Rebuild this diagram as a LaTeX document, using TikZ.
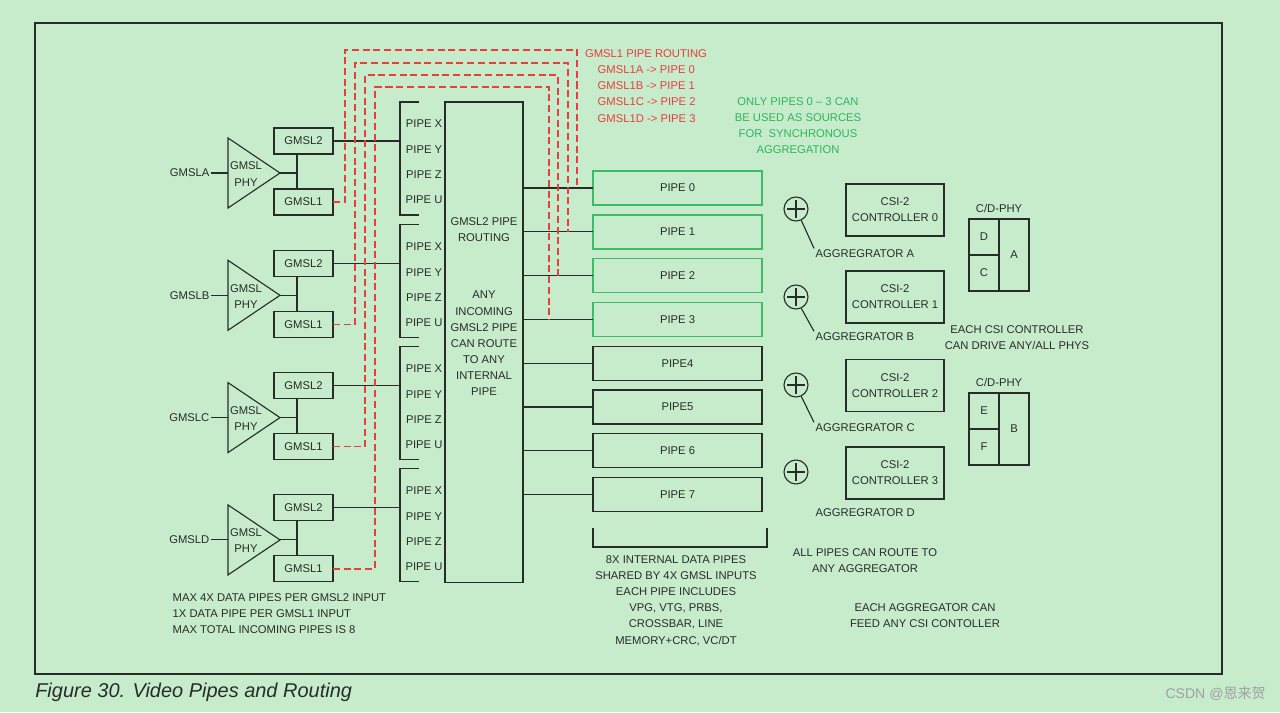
\documentclass[tikz,border=0pt]{standalone}
\usepackage{fontspec}
\setmainfont{Liberation Sans}
\newfontfamily\cjkfont{Noto Sans CJK SC}
\usetikzlibrary{positioning,calc}
\definecolor{PanelGreen}{RGB}{199,236,204}
\definecolor{InkGray}{RGB}{40,44,40}
\definecolor{RouteRed}{RGB}{232,62,62}
\definecolor{SyncGreen}{RGB}{60,188,100}
\definecolor{NoteGreen}{RGB}{45,182,92}
\definecolor{MarkGray}{RGB}{160,160,160}
\tikzset{
  ink/.style={draw=InkGray,line width=0.8pt},
  lbl/.style={inner sep=1pt,font=\fontsize{8}{11.5}\selectfont,text=InkGray,align=center},
  gbox/.style={ink,lbl,minimum width=1.475cm,minimum height=0.65cm,inner sep=0pt,outer sep=0pt},
  pipebox/.style={ink,lbl,minimum width=4.225cm,minimum height=0.85cm,inner sep=0pt,outer sep=0pt},
  syncpipe/.style={pipebox,draw=SyncGreen,line width=1.2pt},
  csibox/.style={ink,lbl,minimum width=2.45cm,minimum height=1.3cm,inner sep=0pt,outer sep=0pt},
  cell/.style={ink,lbl,minimum width=0.75cm,minimum height=0.9cm,inner sep=0pt,outer sep=0pt},
  aggr/.style={ink,circle,minimum size=0.6cm,inner sep=0pt,
    path picture={\draw[InkGray,line width=0.8pt]
      ([xshift=-0.23cm]path picture bounding box.center) -- ([xshift=0.23cm]path picture bounding box.center)
      ([yshift=-0.23cm]path picture bounding box.center) -- ([yshift=0.23cm]path picture bounding box.center);}},
  redroute/.style={draw=RouteRed,line width=0.9pt,dash pattern=on 5pt off 2.6pt},
}

\begin{document}
\begin{tikzpicture}[x=0.025cm,y=-0.025cm]
  \fill[PanelGreen] (0,0) rectangle (1280,712);
  \draw[draw=InkGray,line width=1.4pt] (35,23) rectangle (1222,674);
  \node[anchor=west,inner sep=0pt,text=InkGray,font=\fontsize{14.2}{16}\selectfont\itshape] (caption) at (35,692) {Figure 30. Video Pipes and Routing};
  \node[anchor=east,inner sep=0pt,text=MarkGray,font=\fontsize{10}{12}\selectfont] (mark) at (1266,694) {CSDN @{\cjkfont 恩来贺}};

  \node[ink,minimum width=1.95cm,minimum height=12cm,inner sep=0pt,outer sep=0pt] (route) at (484,342) {};
  \node[lbl] (routehead) at (484,230) {GMSL2 PIPE\\ROUTING};
  \node[lbl] (routeany) at (484,343.5) {ANY\\INCOMING\\GMSL2 PIPE\\CAN ROUTE\\TO ANY\\INTERNAL\\PIPE};

  \foreach \g/\n in {A/0,B/1,C/2,D/3}{
    \pgfmathsetmacro{\b}{122.3*\n}
    \node[lbl,anchor=east] (gin\g) at (211,173+\b) {GMSL\g};
    \coordinate (phyin\g) at (228,173+\b);
    \coordinate (phyout\g) at (280,173+\b);
    \draw[ink] (228,138+\b) -- (phyout\g) -- (228,208+\b) -- cycle;
    \node[lbl] (phy\g) at (246,174+\b) {GMSL\\PHY};
    \draw[ink] (gin\g) -- (phyin\g);
    \node[gbox] (gtwo\g) at (303.5,141+\b) {GMSL2};
    \node[gbox] (gone\g) at (303.5,202+\b) {GMSL1};
    \coordinate (tap\g) at (297,173+\b);
    \draw[ink] (phyout\g) -- (tap\g) (gtwo\g.south -| tap\g) -- (gone\g.north -| tap\g);
    \draw[ink] (419,102+\b) -- (400,102+\b) -- (400,215+\b) -- (419,215+\b);
    \coordinate (brk\g) at (400,141+\b);
    \draw[ink] (gtwo\g) -- (brk\g);
    \foreach \p/\dy in {X/124,Y/150,Z/175,U/200}
      \node[lbl] (pin\g\p) at (424,\dy+\b) {PIPE \p};
  }

  \foreach \k/\txt/\sty in {0/PIPE 0/syncpipe,1/PIPE 1/syncpipe,2/PIPE 2/syncpipe,3/PIPE 3/syncpipe,
      4/PIPE4/pipebox,5/PIPE5/pipebox,6/PIPE 6/pipebox,7/PIPE 7/pipebox}{
    \node[\sty] (pipe\k) at (677.5,188+43.8*\k) {\txt};
    \draw[ink] (route.east |- pipe\k.west) -- (pipe\k.west);
  }
  \draw[ink] (593,528) -- (593,547) -- (767,547) -- (767,528);
  \node[lbl] (pipenote) at (676,600.5) {8X INTERNAL DATA PIPES\\SHARED BY 4X GMSL INPUTS\\EACH PIPE INCLUDES\\VPG, VTG, PRBS,\\CROSSBAR, LINE\\MEMORY+CRC, VC/DT};

  \foreach \g/\k/\xl/\yt/\xr in {A/0/345/50/577,B/1/355/63/568,C/2/365/75/558,D/3/375/87/549}{
    \coordinate (rt\g) at (\xr,188+43.8*\k);
    \draw[redroute] (gone\g.east) -| (\xl,\yt) -| (rt\g);
  }
  \node[lbl,text=RouteRed] (redhead) at (646,54) {GMSL1 PIPE ROUTING};
  \node[lbl,text=RouteRed,anchor=west,align=left] (redlist) at (596,94) {GMSL1A -> PIPE 0\\GMSL1B -> PIPE 1\\GMSL1C -> PIPE 2\\GMSL1D -> PIPE 3};
  \node[lbl,text=NoteGreen] (syncnote) at (798,125.5) {ONLY PIPES 0 -- 3 CAN\\BE USED AS SOURCES\\FOR~ SYNCHRONOUS\\AGGREGATION};

  \foreach \a/\y/\ly in {A/209/254,B/297/337,C/385/428,D/472/513}{
    \node[aggr] (agg\a) at (796,\y) {};
    \node[lbl,anchor=west] (aggl\a) at (814,\ly) {AGGREGRATOR \a};
  }
  \foreach \a in {A,B,C}
    \draw[ink] (agg\a.-65) -- (aggl\a.north west);

  \foreach \c/\y in {0/210,1/297,2/385.5,3/473}
    \node[csibox] (csi\c) at (895,\y) {CSI-2\\CONTROLLER \c};

  \node[cell] (cellD) at (984,237) {D};
  \node[cell,below=0pt of cellD] (cellC) {C};
  \node[cell,minimum height=1.8cm,anchor=north west] (cellA) at (cellD.north east) {A};
  \node[lbl] (cdphyA) at (999,208) {C/D-PHY};
  \node[cell] (cellE) at (984,411) {E};
  \node[cell,below=0pt of cellE] (cellF) {F};
  \node[cell,minimum height=1.8cm,anchor=north west] (cellB) at (cellE.north east) {B};
  \node[lbl] (cdphyB) at (999,382) {C/D-PHY};

  \node[lbl] (csinote) at (1017,337.5) {EACH CSI CONTROLLER\\CAN DRIVE ANY/ALL PHYS};
  \node[lbl] (aggnote) at (865,561) {ALL PIPES CAN ROUTE TO\\ANY AGGREGATOR};
  \node[lbl] (feednote) at (925,616) {EACH AGGREGATOR CAN\\FEED ANY CSI CONTOLLER};
  \node[lbl,anchor=west,align=left] (maxnote) at (171,613.5) {MAX 4X DATA PIPES PER GMSL2 INPUT\\1X DATA PIPE PER GMSL1 INPUT\\MAX TOTAL INCOMING PIPES IS 8};
\end{tikzpicture}
\end{document}
